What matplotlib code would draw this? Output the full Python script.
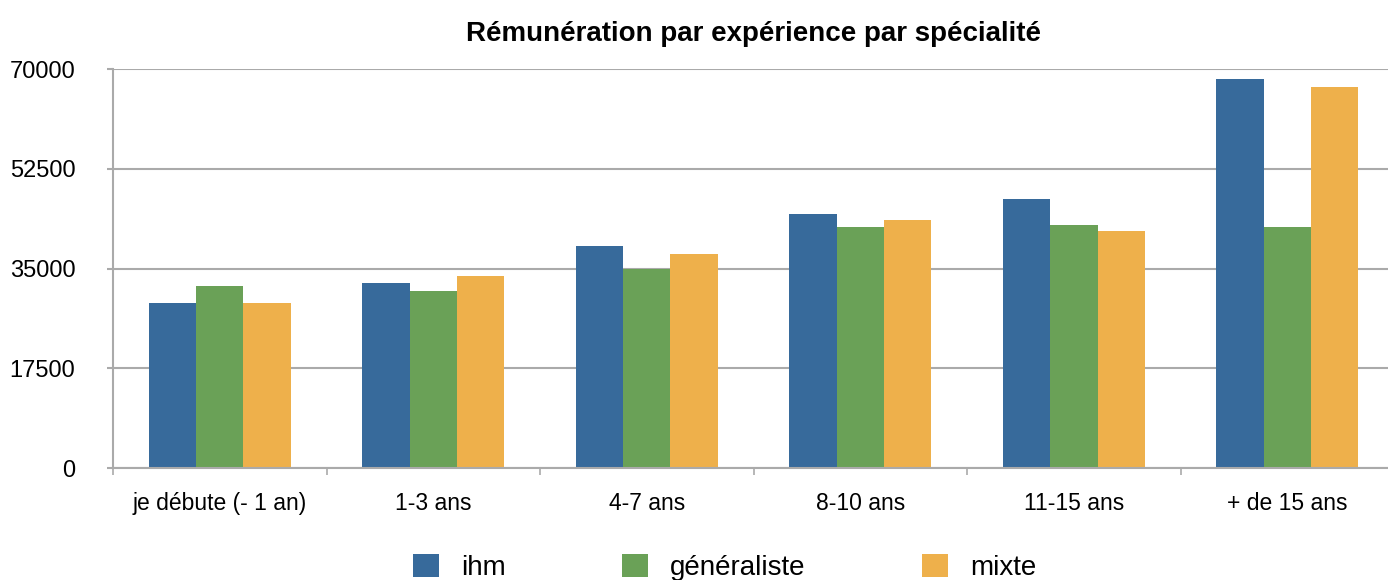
import numpy as np
import matplotlib.pyplot as plt

plt.rcParams['font.family'] = ['Liberation Sans', 'DejaVu Sans']

# Données
categories = ['je débute (- 1 an)', '1-3 ans', '4-7 ans', '8-10 ans', '11-15 ans', '+ de 15 ans']
ihm = [29000, 32500, 39000, 44600, 47200, 68300]
generaliste = [32000, 31000, 35000, 42300, 42700, 42300]
mixte = [29000, 33700, 37500, 43500, 41500, 66800]
series_names = ['ihm', 'généraliste', 'mixte']
colors = ['#376a9b', '#6aa157', '#eeb04b']

fig = plt.figure(figsize=(13.88, 5.8), dpi=100)
ax = fig.add_axes([0.0814, 0.193, 0.923, 0.688])

x = np.arange(len(categories)) + 0.5
w = 0.222
for i, (vals, name, c) in enumerate(zip([ihm, generaliste, mixte], series_names, colors)):
    ax.bar(x + (i - 1) * w, vals, width=w, color=c, label=name, zorder=2)

ax.set_xlim(0, len(categories))
ax.set_ylim(0, 70000)
ax.set_yticks([0, 17500, 35000, 52500, 70000])
ax.yaxis.grid(True, color='#aaaaaa', linewidth=1.5)
ax.set_axisbelow(True)

ax.set_xticks(x)
ax.set_xticklabels(categories)
ax.set_xticks(np.arange(len(categories) + 1), minor=True)
ax.tick_params(axis='x', which='major', length=0, pad=17, labelsize=16.5)
ax.tick_params(axis='x', which='minor', length=5, color='#aaaaaa', width=1.2, direction='out')
ax.tick_params(axis='y', length=4, color='#aaaaaa', width=1.5, pad=23, labelsize=17)

for s in ['top', 'right']:
    ax.spines[s].set_visible(False)
for s in ['left', 'bottom']:
    ax.spines[s].set_color('#aaaaaa')
    ax.spines[s].set_linewidth(1.5)

ax.set_title('Rémunération par expérience par spécialité', fontsize=20,
             fontweight='bold', pad=20)

fig.legend(loc='center', bbox_to_anchor=(0.522, 0.022), ncol=3, frameon=False,
           fontsize=20, handlelength=0.92, handleheight=0.92,
           handletextpad=0.8, columnspacing=4.2)

fig.savefig('out.png', dpi=100)
